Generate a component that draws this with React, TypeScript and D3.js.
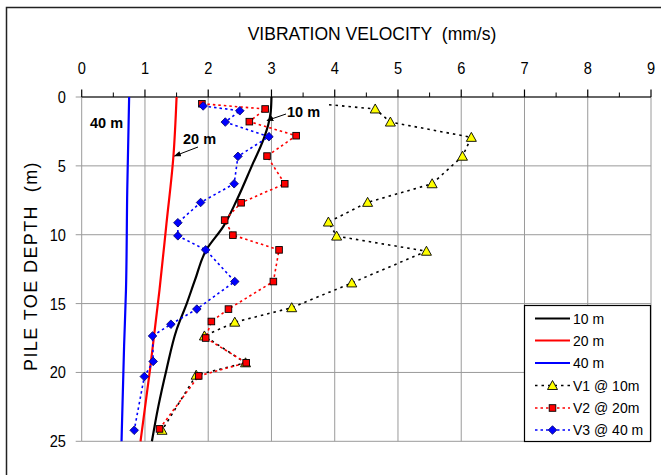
import React from "react";
import * as d3 from "d3";

// ---- data ----
const xTicks = [0, 1, 2, 3, 4, 5, 6, 7, 8, 9];
const yTicks = [0, 5, 10, 15, 20, 25];

// measured series (depth m, velocity mm/s)
const v1Depth = [0.56, 0.87, 1.82, 2.93, 4.3, 6.3, 7.65, 9.08, 10.1, 11.2, 13.5, 15.3, 16.35, 17.35, 19.3, 20.2, 24.2];
const v1Vel = [3.91, 4.64, 4.88, 6.16, 6.02, 5.54, 4.52, 3.9, 4.03, 5.45, 4.27, 3.32, 2.42, 1.94, 2.59, 1.81, 1.27];
const v2Depth = [0.49, 0.87, 1.79, 2.81, 4.29, 6.3, 7.68, 8.94, 10.03, 11.1, 13.4, 15.4, 16.3, 17.5, 19.3, 20.25, 24.1];
const v2Vel = [1.9, 2.9, 2.65, 3.39, 2.93, 3.21, 2.52, 2.26, 2.39, 3.12, 3.03, 2.32, 2.05, 1.96, 2.6, 1.85, 1.23];
const v3Depth = [0.65, 1.0, 1.82, 2.88, 4.31, 6.3, 7.66, 9.13, 10.08, 11.1, 13.4, 15.4, 16.5, 17.35, 19.2, 20.3, 24.2];
const v3Vel = [1.92, 2.5, 2.27, 2.96, 2.47, 2.41, 1.88, 1.52, 1.52, 1.96, 2.42, 1.82, 1.41, 1.12, 1.13, 0.99, 0.83];

// predicted curves
const c10Depth = [0, 1, 2, 3, 5, 7.5, 9.4, 11.1, 13.3, 15, 16.9, 19.8, 22.5, 25];
const c10Vel = [3.0, 2.99, 2.95, 2.88, 2.69, 2.45, 2.24, 1.97, 1.79, 1.66, 1.5, 1.34, 1.21, 1.11];
const c20Depth = [0, 4.3, 9.2, 14, 19.8, 25];
const c20Vel = [1.5, 1.45, 1.34, 1.23, 1.08, 0.93];
const c40Depth = [0, 6.8, 14, 18.1, 25];
const c40Vel = [0.75, 0.72, 0.7, 0.67, 0.63];

const legendLabels = ["10 m", "20 m", "40 m", "V1 @ 10m", "V2 @ 20m", "V3 @ 40 m"];

const W = 661;
const H = 475;
const x = d3.scaleLinear().domain([0, 9]).range([81.7, 651]);
const y = d3.scaleLinear().domain([0, 25]).range([97, 441.3]);

const zip = (d: number[], v: number[]) => d.map((dd, i) => [v[i], dd] as [number, number]);

const smooth = d3
  .line<[number, number]>()
  .x((p) => x(p[0]))
  .y((p) => y(p[1]))
  .curve(d3.curveMonotoneY);
const straight = d3
  .line<[number, number]>()
  .x((p) => x(p[0]))
  .y((p) => y(p[1]));

const sans = "'Liberation Sans', Arial, sans-serif";

function Tri({ cx, cy }: { cx: number; cy: number }) {
  const s = 5;
  return (
    <path
      d={`M${cx},${cy - s}L${cx + s},${cy + s * 0.8}L${cx - s},${cy + s * 0.8}Z`}
      fill="#ffff00"
      stroke="#000"
      strokeWidth={0.9}
    />
  );
}
function Sq({ cx, cy }: { cx: number; cy: number }) {
  const s = 3.3;
  return <rect x={cx - s} y={cy - s} width={2 * s} height={2 * s} fill="#ff0000" stroke="#000" strokeWidth={0.9} />;
}
function Dia({ cx, cy }: { cx: number; cy: number }) {
  const s = 4.3;
  return (
    <path
      d={`M${cx},${cy - s}L${cx + s},${cy}L${cx},${cy + s}L${cx - s},${cy}Z`}
      fill="#0000ff"
      stroke="#000066"
      strokeWidth={0.8}
    />
  );
}

export default function App() {
  const v1 = zip(v1Depth, v1Vel);
  const v2 = zip(v2Depth, v2Vel);
  const v3 = zip(v3Depth, v3Vel);
  const c10 = zip(c10Depth, c10Vel);
  const c20 = zip(c20Depth, c20Vel);
  const c40 = zip(c40Depth, c40Vel);
  const [x0, x1] = x.range();
  const [y0, y1] = y.range();
  const minor = d3.range(0, 9, 1).map((d) => d + 0.5);

  const lgX = 524.5;
  const lgY = 305.5;
  const rowY = [318.5, 340.5, 363, 385.5, 408, 430];
  const lgStyles = [
    { stroke: "#000", dash: undefined, w: 2.2 },
    { stroke: "#ff0000", dash: undefined, w: 2.2 },
    { stroke: "#0000ff", dash: undefined, w: 2.2 },
    { stroke: "#000", dash: "2.5,4", w: 1.6 },
    { stroke: "#ff0000", dash: "2.5,3", w: 1.6 },
    { stroke: "#0000ff", dash: "2.5,3", w: 1.6 },
  ];

  return (
    <svg width={W} height={H} style={{ position: "absolute", left: 0, top: 0, background: "#fff" }}>
      <defs>
        <marker id="arr" viewBox="0 0 10 10" refX="9" refY="5" markerWidth="7" markerHeight="7" orient="auto">
          <path d="M0,1L10,5L0,9Z" fill="#000" />
        </marker>
      </defs>
      <rect x={6.5} y={7.5} width={720} height={520} fill="#fff" stroke="#222" strokeWidth={1.5} />

      {/* gridlines */}
      {xTicks.map((t) => (
        <line key={"gx" + t} x1={x(t)} x2={x(t)} y1={y0} y2={y1} stroke="#9a9a9a" strokeWidth={1} />
      ))}
      {yTicks.map((t) => (
        <line key={"gy" + t} x1={x0} x2={x1} y1={y(t)} y2={y(t)} stroke="#9a9a9a" strokeWidth={1} />
      ))}
      {yTicks.map((t) => (
        <line key={"ty" + t} x1={x0 - 6} x2={x0} y1={y(t)} y2={y(t)} stroke="#9a9a9a" strokeWidth={1} />
      ))}

      {/* top axis */}
      <line x1={x0} x2={x1} y1={y0} y2={y0} stroke="#000" strokeWidth={1.2} />
      {xTicks.map((t) => (
        <line key={"tx" + t} x1={x(t)} x2={x(t)} y1={y0 - 7.5} y2={y0} stroke="#000" strokeWidth={1.2} />
      ))}
      {minor.map((t) => (
        <line key={"mx" + t} x1={x(t)} x2={x(t)} y1={y0 - 4.5} y2={y0} stroke="#000" strokeWidth={1} />
      ))}
      {xTicks.map((t) => (
        <text
          key={"lx" + t}
          transform={`translate(${x(t)},74) scale(0.86,1)`}
          textAnchor="middle"
          fontFamily={sans}
          fontSize={17}
          fill="#000"
        >
          {t}
        </text>
      ))}
      {yTicks.map((t) => (
        <text
          key={"ly" + t}
          transform={`translate(66,${y(t) + 6}) scale(0.86,1)`}
          textAnchor="end"
          fontFamily={sans}
          fontSize={17}
          fill="#000"
        >
          {t}
        </text>
      ))}

      <text x={372} y={40} textAnchor="middle" fontFamily={sans} fontSize={17.5} fill="#000">
        VIBRATION VELOCITY{"\u00a0\u00a0"}(mm/s)
      </text>
      <text
        transform="translate(37,266) rotate(-90)"
        textAnchor="middle"
        fontFamily={sans}
        fontSize={18}
        letterSpacing={1.4}
        fill="#000"
      >
        PILE TOE DEPTH{"\u00a0\u00a0"}(m)
      </text>

      {/* predicted curves */}
      <path d={smooth(c40) || ""} fill="none" stroke="#0000ff" strokeWidth={2.2} />
      <path d={smooth(c20) || ""} fill="none" stroke="#ff0000" strokeWidth={2.2} />
      <path d={smooth(c10) || ""} fill="none" stroke="#000" strokeWidth={2.2} />

      {/* measured */}
      <path d={straight(v1) || ""} fill="none" stroke="#000" strokeWidth={1.6} strokeDasharray="2.5,4" />
      <path d={straight(v2) || ""} fill="none" stroke="#ff0000" strokeWidth={1.6} strokeDasharray="2.5,3" />
      <path d={straight(v3) || ""} fill="none" stroke="#0000ff" strokeWidth={1.6} strokeDasharray="2.5,3" />
      {v1.slice(1).map((p, i) => (
        <Tri key={"a" + i} cx={x(p[0])} cy={y(p[1])} />
      ))}
      {v2.map((p, i) => (
        <Sq key={"b" + i} cx={x(p[0])} cy={y(p[1])} />
      ))}
      {v3.map((p, i) => (
        <Dia key={"c" + i} cx={x(p[0])} cy={y(p[1])} />
      ))}

      {/* annotations */}
      <text x={90} y={128} fontFamily={sans} fontWeight="bold" fontSize={14.5} fill="#000">40 m</text>
      <text x={183} y={144} fontFamily={sans} fontWeight="bold" fontSize={14.5} fill="#000">20 m</text>
      <line x1={198} y1={147} x2={174.5} y2={156} stroke="#000" strokeWidth={1} markerEnd="url(#arr)" />
      <rect x={285} y={103} width={36} height={17} fill="#fff" />
      <text x={287} y={117} fontFamily={sans} fontWeight="bold" fontSize={14.5} fill="#000">10 m</text>
      <line x1={286} y1={114} x2={267} y2={120.5} stroke="#000" strokeWidth={1} markerEnd="url(#arr)" />

      {/* legend */}
      <rect x={lgX} y={lgY} width={126} height={136} fill="#fff" stroke="#000" strokeWidth={1.2} />
      {legendLabels.map((lab, i) => (
        <g key={"lg" + i}>
          <line
            x1={535}
            x2={570}
            y1={rowY[i]}
            y2={rowY[i]}
            stroke={lgStyles[i].stroke}
            strokeWidth={lgStyles[i].w}
            strokeDasharray={lgStyles[i].dash}
          />
          {i === 3 && <Tri cx={552.5} cy={rowY[i]} />}
          {i === 4 && <Sq cx={552.5} cy={rowY[i]} />}
          {i === 5 && <Dia cx={552.5} cy={rowY[i]} />}
          <text x={573} y={rowY[i] + 5} fontFamily={sans} fontSize={14} fill="#000">
            {lab}
          </text>
        </g>
      ))}
    </svg>
  );
}
